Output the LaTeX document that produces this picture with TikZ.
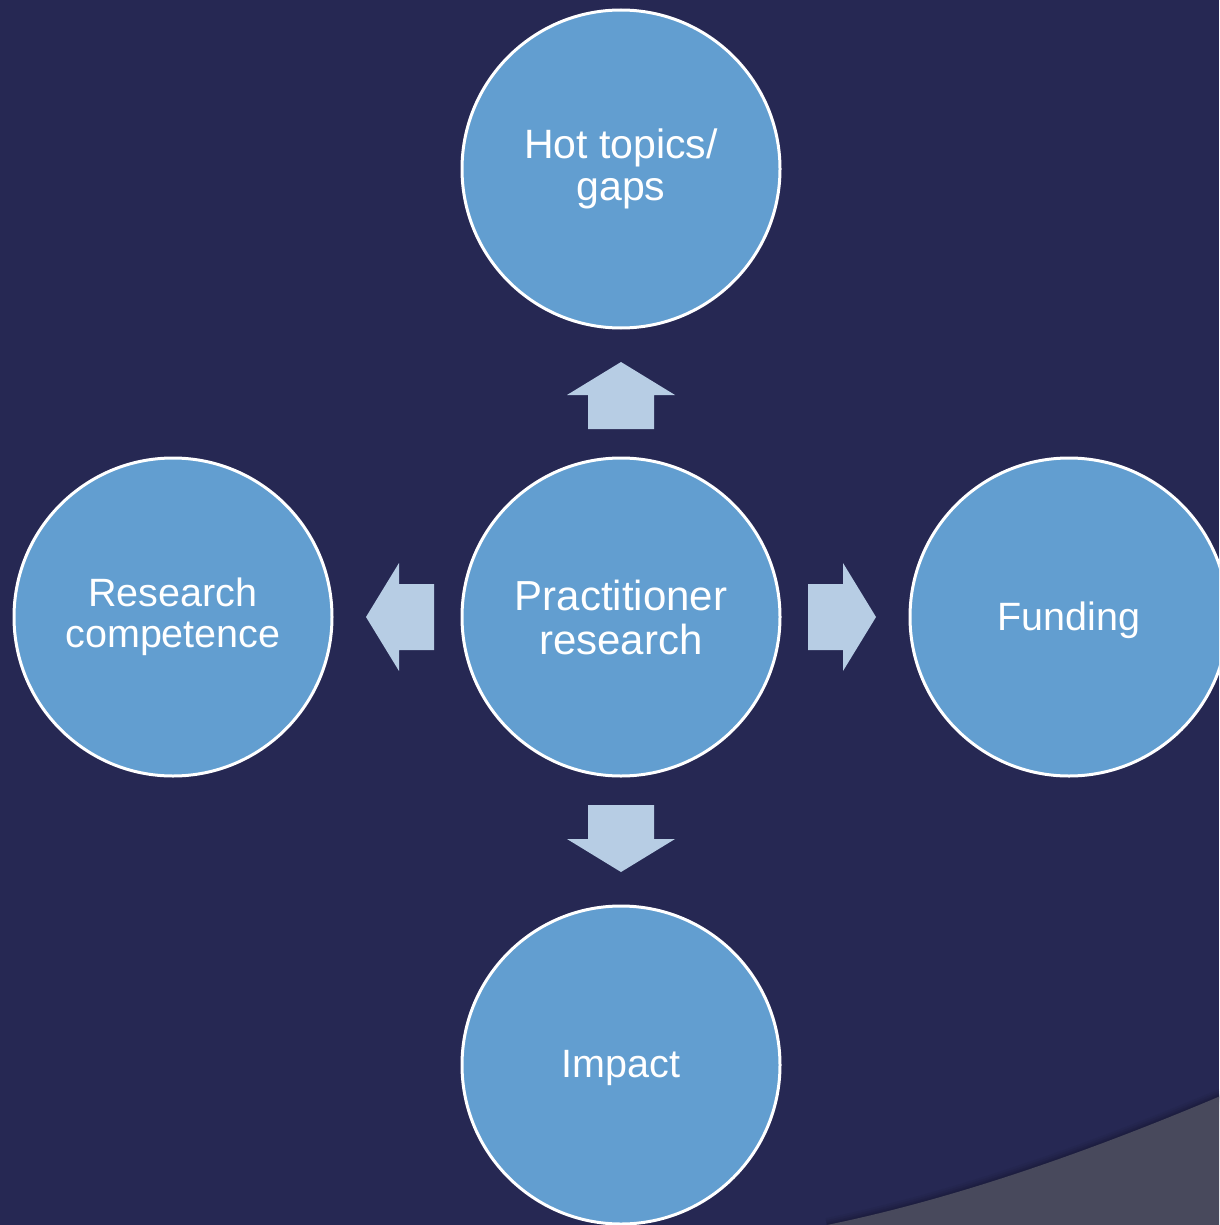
\documentclass[tikz,border=0pt]{standalone}
\usepackage{fontspec}
\setmainfont{Liberation Sans}
\definecolor{bgnavy}{RGB}{38,40,83}
\definecolor{shadenavy}{RGB}{26,27,58}
\definecolor{circfill}{RGB}{98,158,208}
\definecolor{arrowfill}{RGB}{183,205,228}
\definecolor{greyband}{RGB}{72,73,92}
\begin{document}
\begin{tikzpicture}[x=1pt,y=-1pt,
  topic/.style={circle,draw=white,line width=3pt,fill=circfill,minimum size=318pt,
    inner sep=0pt,text=white,align=center},
  blockarrow/.style={fill=arrowfill,draw=none}]
\useasboundingbox (0,0) rectangle (1219,1225);
\clip (0,0) rectangle (1219,1225);
\fill[bgnavy] (0,0) rectangle (1219,1225);
% grey band bottom right with soft shadow
\foreach \w/\o in {14/0.15,10/0.2,6/0.3,3/0.4}{
  \draw[shadenavy,line width=\w pt,opacity=\o] (827,1225) .. controls (944,1201) and (1075,1158) .. (1230,1092);
}
\fill[greyband] (827,1225) .. controls (944,1201) and (1075,1158) .. (1230,1092) -- (1230,1235) -- (820,1235) -- cycle;
% circles
\node[topic,font=\fontsize{42}{44}\selectfont] (center) at (621,617) {Practitioner\\research};
\node[topic,font=\fontsize{41}{42}\selectfont] (top) at (621,169) {Hot topics/\\gaps};
\node[topic,font=\fontsize{39.5}{41}\selectfont] (left) at (173,617) {Research\\competence};
\node[topic,font=\fontsize{39.5}{41}\selectfont,text depth=2pt] (right) at (1069,617) {Funding};
\node[topic,font=\fontsize{39.5}{41}\selectfont,text depth=2pt] (bottom) at (621,1065) {Impact};
% block arrows
\fill[blockarrow] (588,429) -- (588,395) -- (567,395) -- (621,362) -- (675,395) -- (654,395) -- (654,429) -- cycle;
\fill[blockarrow] (588,805) -- (588,839) -- (567,839) -- (621,872) -- (675,839) -- (654,839) -- (654,805) -- cycle;
\fill[blockarrow] (808,584) -- (843,584) -- (843,563) -- (876,617) -- (843,671) -- (843,650) -- (808,650) -- cycle;
\fill[blockarrow] (434,584) -- (399,584) -- (399,563) -- (366,617) -- (399,671) -- (399,650) -- (434,650) -- cycle;
\end{tikzpicture}
\end{document}
